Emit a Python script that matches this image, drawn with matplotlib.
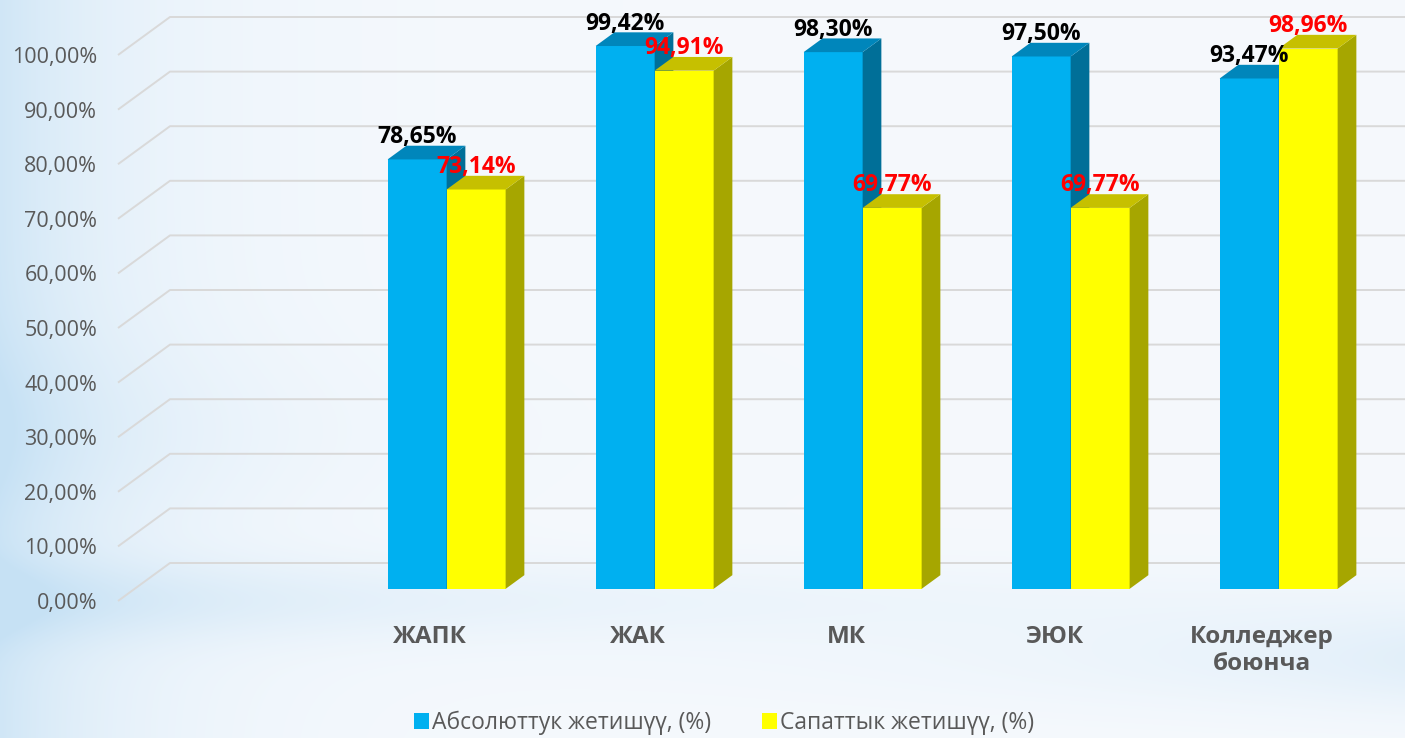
import numpy as np
import matplotlib
matplotlib.use("Agg")
import matplotlib.pyplot as plt
from matplotlib.patches import Polygon, Patch

plt.rcParams['font.family'] = ['Open Sans', 'Noto Sans', 'DejaVu Sans']

# data (first slot is empty in the original)
categories = ['', 'ЖАПК', 'ЖАК', 'МК', 'ЭЮК', 'Колледжер\nбоюнча']
absolute = [None, 78.65, 99.42, 98.30, 97.50, 93.47]
quality = [None, 73.14, 94.91, 69.77, 69.77, 98.96]
series_names = ['Абсолюттук жетишүү, (%)', 'Сапаттык жетишүү, (%)']
yticks = [0, 10, 20, 30, 40, 50, 60, 70, 80, 90, 100]

W, H = 1405, 738
fig = plt.figure(figsize=(W / 100, H / 100), dpi=100)

# background wash
bg = fig.add_axes([0, 0, 1, 1], zorder=-5)
yy, xx = np.mgrid[0:H, 0:W].astype(float)
a = 0.8 * np.exp(-xx / 130.0)
a += 0.5 * np.exp(-((yy - 600) / 40.0) ** 2) * np.exp(-xx / 700.0)
a += 0.4 * np.exp(-((yy - 660) / 50.0) ** 2) * np.exp(-(W - xx) / 350.0)
a += 0.3 * np.exp(-((yy - 430) / 90.0) ** 2) * np.exp(-xx / 220.0)
a = np.clip(a, 0, 1)[..., None]
base = np.array([0.962, 0.976, 0.992])
blue = np.array([0.78, 0.885, 0.96])
bg.imshow(base * (1 - a) + blue * a, aspect='auto', extent=[0, 1, 0, 1])
bg.axis('off')

# main axes: front plane of the 3d box
px_cat = 208.0       # pixels per category
px_pct = 5.46        # pixels per percent
left_px, floor_px = 118, 601
ax = fig.add_axes([left_px / W, (H - floor_px) / H, (W - left_px) / W, floor_px / H])
ax.set_xlim(-0.5, -0.5 + (W - left_px) / px_cat)
ax.set_ylim(0, floor_px / px_pct)
ax.patch.set_alpha(0)
for s in ax.spines.values():
    s.set_visible(False)

DX = 52 / px_cat     # depth of the box in x units
DY = 38 / px_pct     # depth of the box in y units
d0, d1 = 0.32, 0.68  # bar depth inside the box
bw = 59 / px_cat     # bar width

# gridlines: back wall + left diagonal
grid_c = '#d9d9d9'
x_end = ax.get_xlim()[1]
for v in yticks:
    ax.plot([-0.5, -0.5 + DX, x_end + 1], [v, v + DY, v + DY], color=grid_c,
            lw=1.4, zorder=1, clip_on=False, solid_capstyle='butt')

ax.set_yticks(yticks)
ax.set_yticklabels([f'{v:.2f}%'.replace('.', ',') for v in yticks],
                   fontsize=15.5, color='#595959')
ax.tick_params(axis='y', length=0, pad=15)
ax.set_xticks(range(len(categories)))
ax.set_xticklabels(categories, fontsize=17.5, fontweight='bold', color='#595959',
                   linespacing=1.2)
ax.tick_params(axis='x', length=0, pad=17)

colors = [
    ('#00b0f0', '#0086bb', '#006f98'),
    ('#ffff00', '#c6c000', '#a6a600'),
]
label_colors = ['#000000', '#ff0000']


def draw_bar(x0, v, cols, z):
    front, top, side = cols
    yb = d0 * DY
    dd = d1 - d0
    x1 = x0 + bw
    ox, oy = dd * DX, dd * DY
    ax.add_patch(Polygon([(x0, yb), (x1, yb), (x1, yb + v), (x0, yb + v)],
                         closed=True, fc=front, ec='none', zorder=z))
    ax.add_patch(Polygon([(x1, yb), (x1 + ox, yb + oy), (x1 + ox, yb + v + oy), (x1, yb + v)],
                         closed=True, fc=side, ec='none', zorder=z))
    ax.add_patch(Polygon([(x0, yb + v), (x1, yb + v), (x1 + ox, yb + v + oy), (x0 + ox, yb + v + oy)],
                         closed=True, fc=top, ec='none', zorder=z))
    return yb + v + oy


for i in range(len(categories)):
    if absolute[i] is None:
        continue
    xc = i + d0 * DX
    for k, vals in enumerate([absolute, quality]):
        v = vals[i]
        x0 = xc - bw if k == 0 else xc
        ytop = draw_bar(x0, v, colors[k], 3 + k)
        ax.text(x0 + bw / 2, ytop + 0.5, f'{v:.2f}%'.replace('.', ','),
                ha='center', va='baseline', fontsize=16.5, fontweight='bold',
                color=label_colors[k], zorder=10)

handles = [Patch(fc=colors[k][0], ec='none') for k in range(2)]
fig.legend(handles, series_names, loc='center', bbox_to_anchor=(724 / W, 1 - 723 / H),
           ncol=2, frameon=False, fontsize=16.5, labelcolor='#595959',
           handlelength=0.65, handleheight=0.65, handletextpad=0.15, columnspacing=2.2)

fig.savefig('out.png', dpi=100)
